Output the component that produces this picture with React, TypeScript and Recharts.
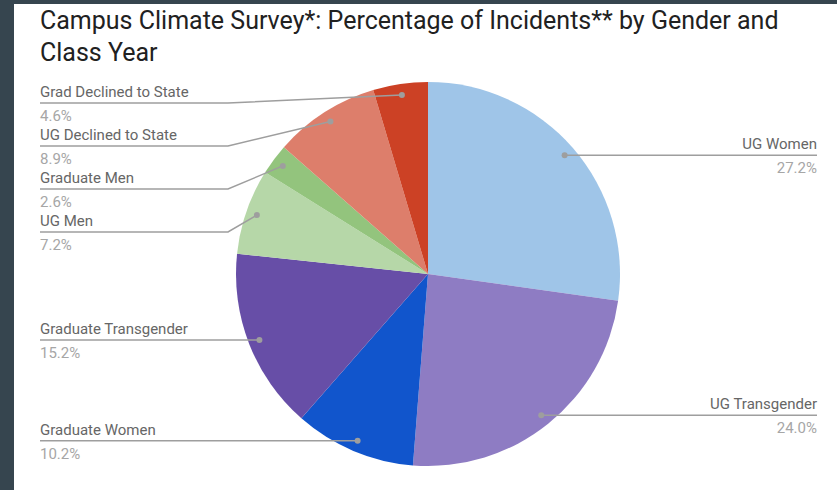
import { PieChart, Pie, Cell } from "recharts"

const categories = [
    "UG Women",
    "UG Transgender",
    "Graduate Women",
    "Graduate Transgender",
    "UG Men",
    "Graduate Men",
    "UG Declined to State",
    "Grad Declined to State",
]
const percentages = [27.2, 24.0, 10.2, 15.2, 7.2, 2.6, 8.9, 4.6]
const colors = ["#9fc5e8", "#8e7cc3", "#1155cc", "#674ea7", "#b6d7a8", "#93c47d", "#dd7e6b", "#cc4125"]

const W = 823
const H = 486
const CX = 414
const CY = 270
const R = 192
const DOT_IN = 11
const GAP = 43
const MIN_Y = 99
const LEFT_X = 26
const RIGHT_X = 803
const BEND = 188

const data = categories.map((name, i) => ({ name, value: percentages[i], color: colors[i] }))

// stack label lines the way the sheets chart does: each side sorted by dot height,
// pushed down so they never sit closer than GAP
function layoutLabels() {
    const total = percentages.reduce((a, b) => a + b, 0)
    let acc = 0
    const items = percentages.map((v, i) => {
        const mid = ((acc + v / 2) / total) * Math.PI * 2
        acc += v
        const x = CX + (R - DOT_IN) * Math.sin(mid)
        const y = CY - (R - DOT_IN) * Math.cos(mid)
        return { i, x, y, left: x < CX, lineY: y }
    })
    for (const side of [true, false]) {
        const list = items.filter(d => d.left === side).sort((a, b) => a.y - b.y)
        let prev = MIN_Y - GAP
        for (const d of list) {
            d.lineY = Math.max(d.y, prev + GAP)
            prev = d.lineY
        }
    }
    const out: Record<number, { lineY: number; left: boolean }> = {}
    items.forEach(d => (out[d.i] = { lineY: d.lineY, left: d.left }))
    return out
}

const labelPos = layoutLabels()

function renderLabel(props: any) {
    const { cx, cy, midAngle, outerRadius, index, name, value } = props
    const rad = Math.PI / 180
    const r = outerRadius - DOT_IN
    const dx = cx + r * Math.cos(-midAngle * rad)
    const dy = cy + r * Math.sin(-midAngle * rad)
    const { lineY, left } = labelPos[index]
    const endX = left ? LEFT_X : RIGHT_X
    const bendX = left ? LEFT_X + BEND : RIGHT_X - BEND
    const pts = Math.abs(lineY - dy) < 0.5
        ? `${dx},${dy} ${endX},${lineY}`
        : `${dx},${dy} ${bendX},${lineY} ${endX},${lineY}`
    const anchor = left ? "start" : "end"
    return (
        <g key={`lbl-${index}`}>
            <polyline points={pts} fill="none" stroke="#9e9e9e" strokeWidth={1.5} />
            <circle cx={dx} cy={dy} r={3} fill="#9e9e9e" />
            <text x={endX} y={lineY - 6} textAnchor={anchor} fontSize={15} fill="#666666" fontFamily="Roboto">
                {name}
            </text>
            <text x={endX} y={lineY + 18} textAnchor={anchor} fontSize={15} fill="#a6a6a6" fontFamily="Roboto">
                {value.toFixed(1)}%
            </text>
        </g>
    )
}

export default function App() {
    return (
        <div style={{ position: "absolute", left: 0, top: 0, width: 837, height: 490, background: "#36454f", overflow: "hidden" }}>
            <div style={{ position: "absolute", left: 14, top: 4, width: W, height: H, background: "#ffffff" }}>
                <div
                    style={{
                        position: "absolute",
                        left: 26,
                        top: 1,
                        width: 765,
                        fontFamily: "Roboto",
                        fontSize: 25,
                        lineHeight: "32px",
                        color: "#212121",
                    }}
                >
                    Campus Climate Survey*: Percentage of Incidents** by Gender and Class Year
                </div>
                <PieChart
                    width={W}
                    height={H}
                    margin={{ top: 0, right: 0, bottom: 0, left: 0 }}
                    style={{ position: "absolute", left: 0, top: 0 }}
                >
                    <Pie
                        data={data}
                        dataKey="value"
                        nameKey="name"
                        cx={CX}
                        cy={CY}
                        outerRadius={R}
                        startAngle={90}
                        endAngle={-270}
                        stroke="none"
                        label={renderLabel}
                        labelLine={false}
                        isAnimationActive={false}
                    >
                        {data.map((d, i) => <Cell key={i} fill={d.color} />)}
                    </Pie>
                </PieChart>
            </div>
        </div>
    )
}
